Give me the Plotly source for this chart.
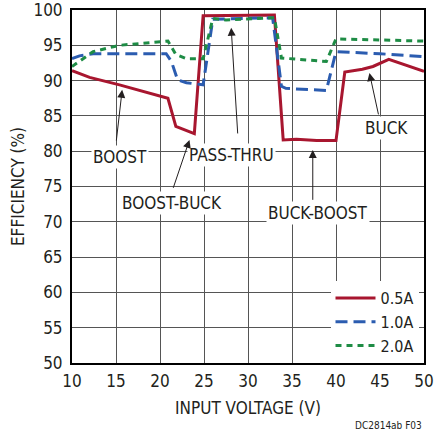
import plotly.graph_objects as go

FONT = "Liberation Sans Narrow, DejaVu Sans Condensed, Arial Narrow, sans-serif"
TXT = "#231f20"

# 0.5A
v_05 = [10, 12.0, 15.4, 20.9, 21.8, 23.9, 24.9, 33.0, 34.0, 35.5, 37.8, 40.0, 41.0, 43.0, 44.2, 46.0, 50]
e_05 = [91.4, 90.45, 89.4, 87.5, 83.5, 82.5, 99.2, 99.3, 81.6, 81.7, 81.5, 81.5, 91.2, 91.6, 92.0, 93.0, 91.3]
# 1.0A
v_10 = [10, 10.85, 12.4, 20.7, 21.3, 22.0, 23.0, 24.9, 26.0, 32.8, 33.8, 34.3, 38.9, 40.0, 45.0, 50]
e_10 = [93.1, 93.5, 93.8, 93.8, 92.7, 90.1, 89.7, 89.4, 98.7, 98.9, 89.2, 88.9, 88.6, 94.1, 93.8, 93.4]
# 2.0A
v_20 = [10, 12.4, 15.4, 18.0, 20.9, 21.8, 23.0, 24.9, 26.0, 27.5, 31.3, 33.0, 33.8, 38.9, 40.0, 50]
e_20 = [92.0, 94.1, 95.0, 95.3, 95.6, 93.7, 93.1, 93.1, 98.8, 98.6, 98.8, 98.9, 93.2, 92.7, 95.9, 95.6]

x_ticks = [10, 15, 20, 25, 30, 35, 40, 45, 50]
y_ticks = [50, 55, 60, 65, 70, 75, 80, 85, 90, 95, 100]

# region labels: text, text position, arrow tail, arrow head
label_text = ["BOOST", "BOOST-BUCK", "PASS-THRU", "BUCK-BOOST", "BUCK"]
label_pos = [(15.4, 79.23), (21.36, 72.66), (28.18, 79.47), (37.93, 71.19), (45.7, 83.27)]
arrow_tail = [(15.02, 81.3), (21.45, 74.6), (28.84, 82.3), (37.36, 72.9), (44.86, 85.0)]
arrow_head = [(15.7, 88.7), (23.35, 81.6), (28.09, 97.47), (37.36, 80.18), (43.8, 91.08)]

fig = go.Figure()
fig.add_trace(go.Scatter(x=v_05, y=e_05, mode="lines", name="0.5A",
                         line=dict(color="#a8162f", width=3)))
fig.add_trace(go.Scatter(x=v_10, y=e_10, mode="lines", name="1.0A",
                         line=dict(color="#2b5cb0", width=3, dash="12px,6px")))
fig.add_trace(go.Scatter(x=v_20, y=e_20, mode="lines", name="2.0A",
                         line=dict(color="#1e8c45", width=3, dash="6px,5px")))

for t, p in zip(label_text, label_pos):
    fig.add_annotation(x=p[0], y=p[1], xref="x", yref="y", text=t, showarrow=False,
                       font=dict(family=FONT, size=17, color=TXT),
                       bgcolor="white", borderpad=1)
for tl, hd in zip(arrow_tail, arrow_head):
    fig.add_annotation(x=hd[0], y=hd[1], ax=tl[0], ay=tl[1], xref="x", yref="y",
                       axref="x", ayref="y", text="", showarrow=True,
                       arrowhead=2, arrowsize=1.6, arrowwidth=1, arrowcolor=TXT,
                       standoff=0, startstandoff=0)

fig.add_annotation(x=1.0, y=(362.5 - 425) / 352, xref="paper", yref="paper",
                   xanchor="right", yanchor="middle",
                   text="DC2814ab F03", showarrow=False,
                   font=dict(family=FONT, size=10, color=TXT))

axis_common = dict(showgrid=True, gridcolor="#555555", gridwidth=1,
                   showline=True, linecolor="black", linewidth=2, mirror=True,
                   ticks="", zeroline=False, automargin=False,
                   ticklabeloverflow="allow",
                   tickfont=dict(family=FONT, size=17, color=TXT))

fig.update_layout(
    width=435, height=435,
    margin=dict(l=72, r=11, t=10, b=72),
    paper_bgcolor="white", plot_bgcolor="white",
    showlegend=True,
    legend=dict(x=(419 - 72.5) / 352, y=0.0, xanchor="right", yanchor="bottom",
                bgcolor="white", borderwidth=0,
                font=dict(family=FONT, size=16, color=TXT),
                tracegroupgap=0, itemwidth=40),
    xaxis=dict(range=[10, 50], tickvals=x_ticks, ticklabelstandoff=2,
               title=dict(text="INPUT VOLTAGE (V)", standoff=12,
                          font=dict(family=FONT, size=17, color=TXT)),
               **axis_common),
    yaxis=dict(range=[50, 100], tickvals=y_ticks, ticklabelstandoff=4,
               title=dict(text="EFFICIENCY (%)", standoff=4,
                          font=dict(family=FONT, size=17, color=TXT)),
               **axis_common),
)

fig.write_html("out.html", config={"displayModeBar": False},
               post_script="document.body.style.margin='0';document.body.style.overflow='hidden';")
